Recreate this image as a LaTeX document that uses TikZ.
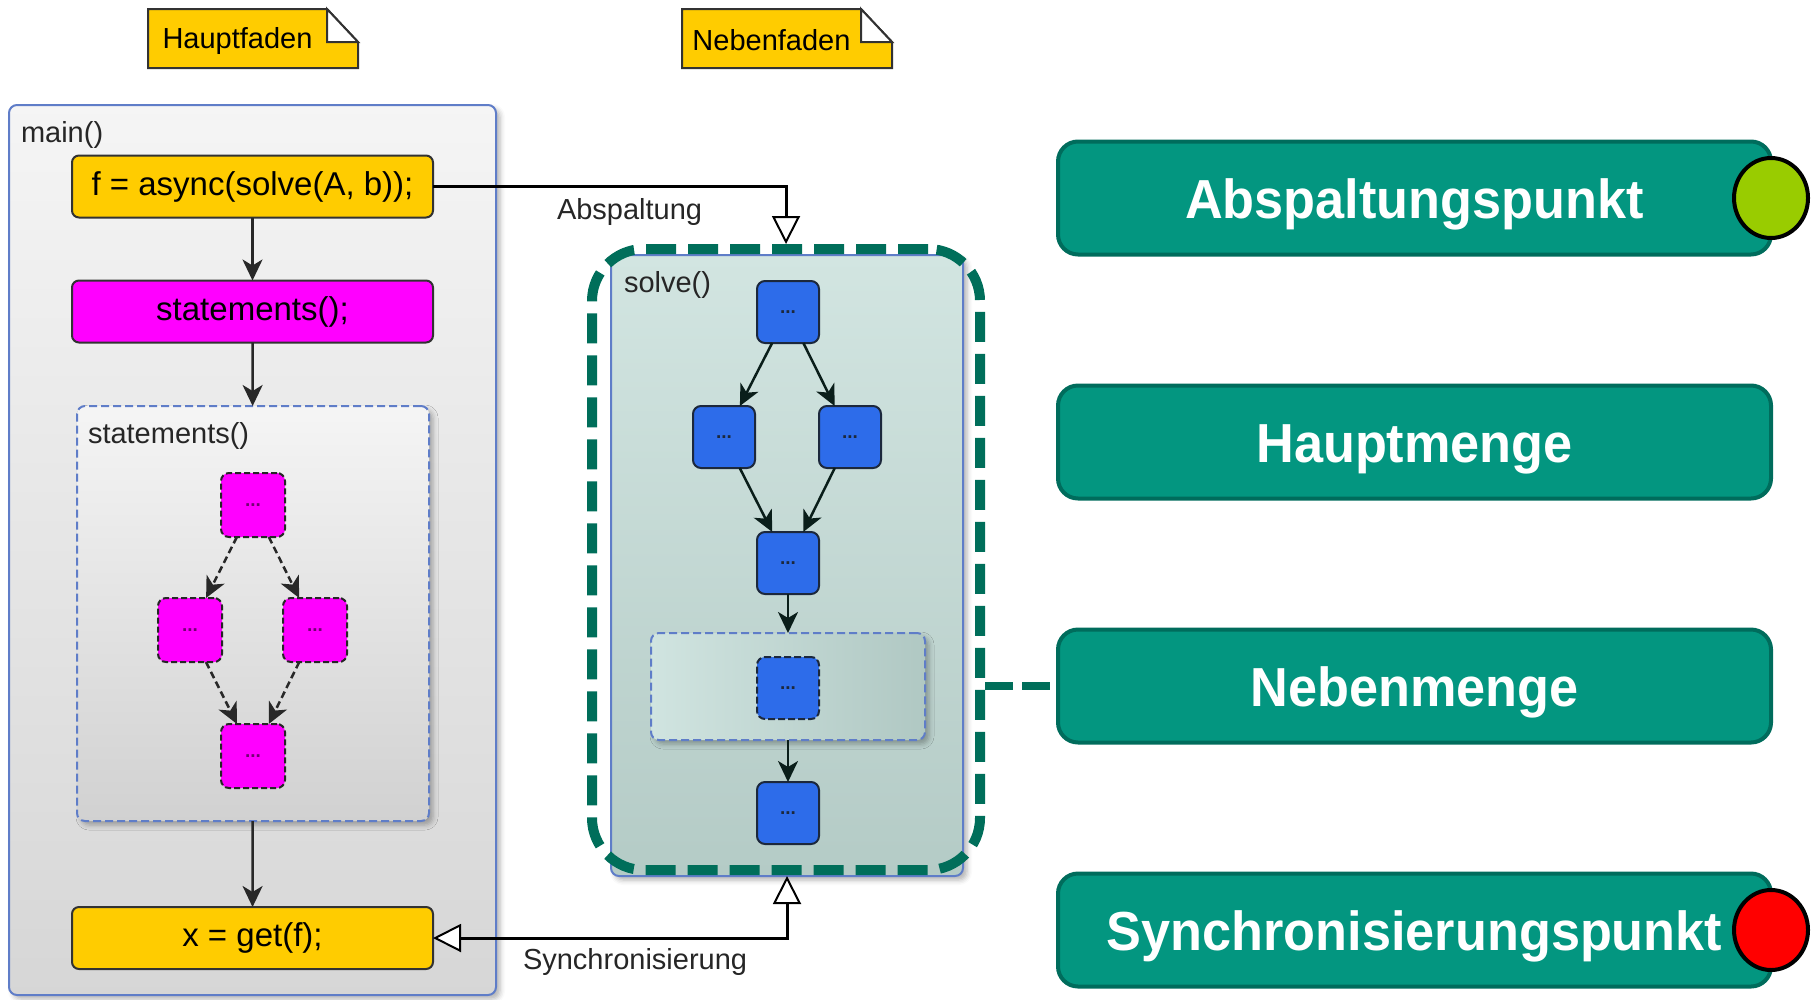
\documentclass[tikz,border=0pt]{standalone}
\usepackage{fontspec}
\setmainfont{Liberation Sans}
\newfontfamily\legendfont[FakeStretch=0.95]{Liberation Sans}
\usetikzlibrary{arrows.meta,shapes.geometric,shadows.blur}

\definecolor{codeyellow}{RGB}{255,204,0}
\definecolor{boxedge}{RGB}{50,50,50}
\definecolor{magentafill}{RGB}{255,0,255}
\definecolor{taskblue}{RGB}{45,108,234}
\definecolor{taskedge}{RGB}{28,40,60}
\definecolor{legendteal}{RGB}{3,150,128}
\definecolor{legendedge}{RGB}{0,108,92}
\definecolor{dashgreen}{RGB}{0,110,90}
\definecolor{frameblue}{RGB}{95,125,200}
\definecolor{limegreen}{RGB}{153,204,0}
\definecolor{flowgray}{RGB}{40,40,40}
\definecolor{darkflow}{RGB}{10,30,26}

\tikzset{opentip/.tip={Triangle[length=28pt,width=28pt,fill=white,line width=2pt]}}
% legend caption: baseline placed so the capitals sit centred in the box
\newcommand{\legendcaption}[1]{\raisebox{-20pt}[0pt][0pt]{#1}}

\begin{document}
\begin{tikzpicture}[x=1pt,y=-1pt,
  every node/.style={outer sep=0pt},
  txtlabel/.style={font=\fontsize{29}{34}\selectfont, inner sep=0pt, anchor=west, text=black!85},
  codebox/.style={draw=boxedge, line width=2pt, rounded corners=7pt, fill=codeyellow,
    minimum width=361pt, minimum height=62pt, font=\fontsize{33}{38}\selectfont},
  callbox/.style={codebox, fill=magentafill},
  mainframe/.style={draw=frameblue, line width=2pt, rounded corners=8pt,
    blur shadow={shadow xshift=4pt, shadow yshift=-4pt, shadow blur radius=5pt, shadow opacity=30}},
  subframe/.style={mainframe, dash pattern=on 8pt off 4pt},
  task/.style={draw=taskedge, line width=2pt, rounded corners=8pt, fill=taskblue,
    minimum width=62pt, minimum height=62pt, inner sep=0pt,
    font=\bfseries\fontsize{19}{20}\selectfont, text=taskedge},
  subtask/.style={draw=black!85, dash pattern=on 6pt off 3pt, line width=2pt, rounded corners=8pt,
    fill=magentafill, minimum width=64pt, minimum height=64pt, inner sep=0pt,
    font=\bfseries\fontsize{19}{20}\selectfont, text=black!55!magentafill},
  flowarrow/.style={draw=flowgray, line width=2.5pt, -{Stealth[length=21pt,width=20pt,inset=6pt]}},
  subflow/.style={flowarrow, dash pattern=on 7pt off 4pt},
  solveflow/.style={flowarrow, draw=darkflow},
  handoff/.style={draw=black, line width=3pt},
  legendbox/.style={fill=legendteal, draw=legendedge, line width=4pt, rounded corners=20pt,
    minimum width=713pt, minimum height=113pt, text=white,
    font=\legendfont\bfseries\fontsize{55}{60}\selectfont},
  dotmarker/.style={ellipse, draw=black, line width=4pt, minimum width=74pt, minimum height=80pt, inner sep=0pt},
  notearea/.style={minimum width=179pt, minimum height=59pt, inner sep=0pt},
  notetext/.style={inner sep=0pt, font=\fontsize{29}{34}\selectfont},
  notefill/.style={fill=codeyellow, draw=boxedge, line width=2pt, line join=miter}
]
\useasboundingbox (0,0) rectangle (1819,999);

% ---------- thread notes (folded corner) ----------
\foreach \n/\cx in {haupt/237.5, neben/771.5}{
  \node[notearea] (\n) at (\cx,38.5) {};
  \path[notefill] (\n.south west) -- (\n.north west) -- (\n.north east)
    -- ([xshift=31pt,yshift=-33pt]\n.north east) -- ([xshift=31pt]\n.south east) -- cycle;
  \path[notefill, fill=white] (\n.north east) -- ([yshift=-33pt]\n.north east)
    -- ([xshift=31pt,yshift=-33pt]\n.north east) -- cycle;
}
\node[notetext] (hauptlbl) at ([yshift=-2pt]haupt) {Hauptfaden};
\node[notetext] (nebenlbl) at ([yshift=-2pt]neben) {Nebenfaden};

% ---------- main thread ----------
\node[mainframe, top color=white!96!black, bottom color=white!84!black,
  minimum width=487pt, minimum height=890pt] (main) at (252.5,550) {};
\node[txtlabel] (mainlbl) at (21,135) {main()};

\node[codebox] (async) at (252.5,186.5) {f = async(solve(A, b));};
\node[callbox] (call) at (252.5,311.5) {statements();};

\node[subframe, top color=white!96!black, bottom color=white!82!black,
  minimum width=352pt, minimum height=415pt] (stmts) at (253,613.5) {};
\node[txtlabel] (stmtslbl) at (88,436) {statements()};

\node[subtask] (s1) at (253,505) {...};
\node[subtask] (s2) at (190,630) {...};
\node[subtask] (s3) at (315,630) {...};
\node[subtask] (s4) at (253,756) {...};

\node[codebox] (getf) at (252.5,938) {x = get(f);};

\draw[flowarrow] (async) -- (call);
\draw[flowarrow] (call) -- (stmts);
\draw[flowarrow] (stmts) -- (getf);
\draw[subflow] (s1) -- (s2);
\draw[subflow] (s1) -- (s3);
\draw[subflow] (s2) -- (s4);
\draw[subflow] (s3) -- (s4);

% ---------- side thread ----------
\node[mainframe, top color={rgb,255:red,210;green,229;blue,225}, bottom color={rgb,255:red,180;green,203;blue,198},
  minimum width=352pt, minimum height=621pt] (solve) at (787,565.5) {};
\node[txtlabel] (solvelbl) at (624,285) {solve()};

\node[subframe, left color={rgb,255:red,208;green,228;blue,224}, right color={rgb,255:red,176;green,200;blue,195},
  minimum width=274pt, minimum height=107pt] (inner) at (788,686.5) {};

\node[task] (t1) at (788,312) {...};
\node[task] (t2) at (724,437) {...};
\node[task] (t3) at (850,437) {...};
\node[task] (t4) at (788,563) {...};
\node[task, dash pattern=on 7pt off 3pt] (t5) at (788,688) {...};
\node[task] (t6) at (788,813) {...};

\draw[solveflow] (t1) -- (t2);
\draw[solveflow] (t1) -- (t3);
\draw[solveflow] (t2) -- (t4);
\draw[solveflow] (t3) -- (t4);
\draw[solveflow] (t4) -- (inner);
\draw[solveflow] (inner) -- (t6);

\node[draw=dashgreen, line width=10pt, dash pattern=on 30pt off 12pt, rounded corners=52pt,
  minimum width=388pt, minimum height=621pt, outer sep=5pt] (nebenrahmen) at (786,559.5) {};

% ---------- fork and join ----------
\draw[handoff, -{opentip}] (async.east) -| (nebenrahmen.north);
\node[txtlabel] (abslbl) at (557,212) {Abspaltung};

\draw[handoff, {opentip}-{opentip}] (solve.south) |- (getf.east);
\node[txtlabel] (synclbl) at (523,962) {Synchronisierung};

% ---------- legend ----------
\node[legendbox] (labs) at (1414.5,198) {\legendcaption{Abspaltungspunkt}};
\node[legendbox] (lhaupt) at (1414.5,442) {\legendcaption{Hauptmenge}};
\node[legendbox] (lneben) at (1414.5,686) {\legendcaption{Nebenmenge}};
\node[legendbox] (lsync) at (1414.5,930) {\legendcaption{Synchronisierungspunkt}};

\node[dotmarker, fill=limegreen] (forkdot) at (labs.east) {};
\node[dotmarker, fill=red] (joindot) at (lsync.east) {};

\draw[draw=dashgreen, line width=8pt, dash pattern=on 28pt off 9pt]
  (nebenrahmen.east |- lneben.west) -- (lneben.west);
\end{tikzpicture}
\end{document}
